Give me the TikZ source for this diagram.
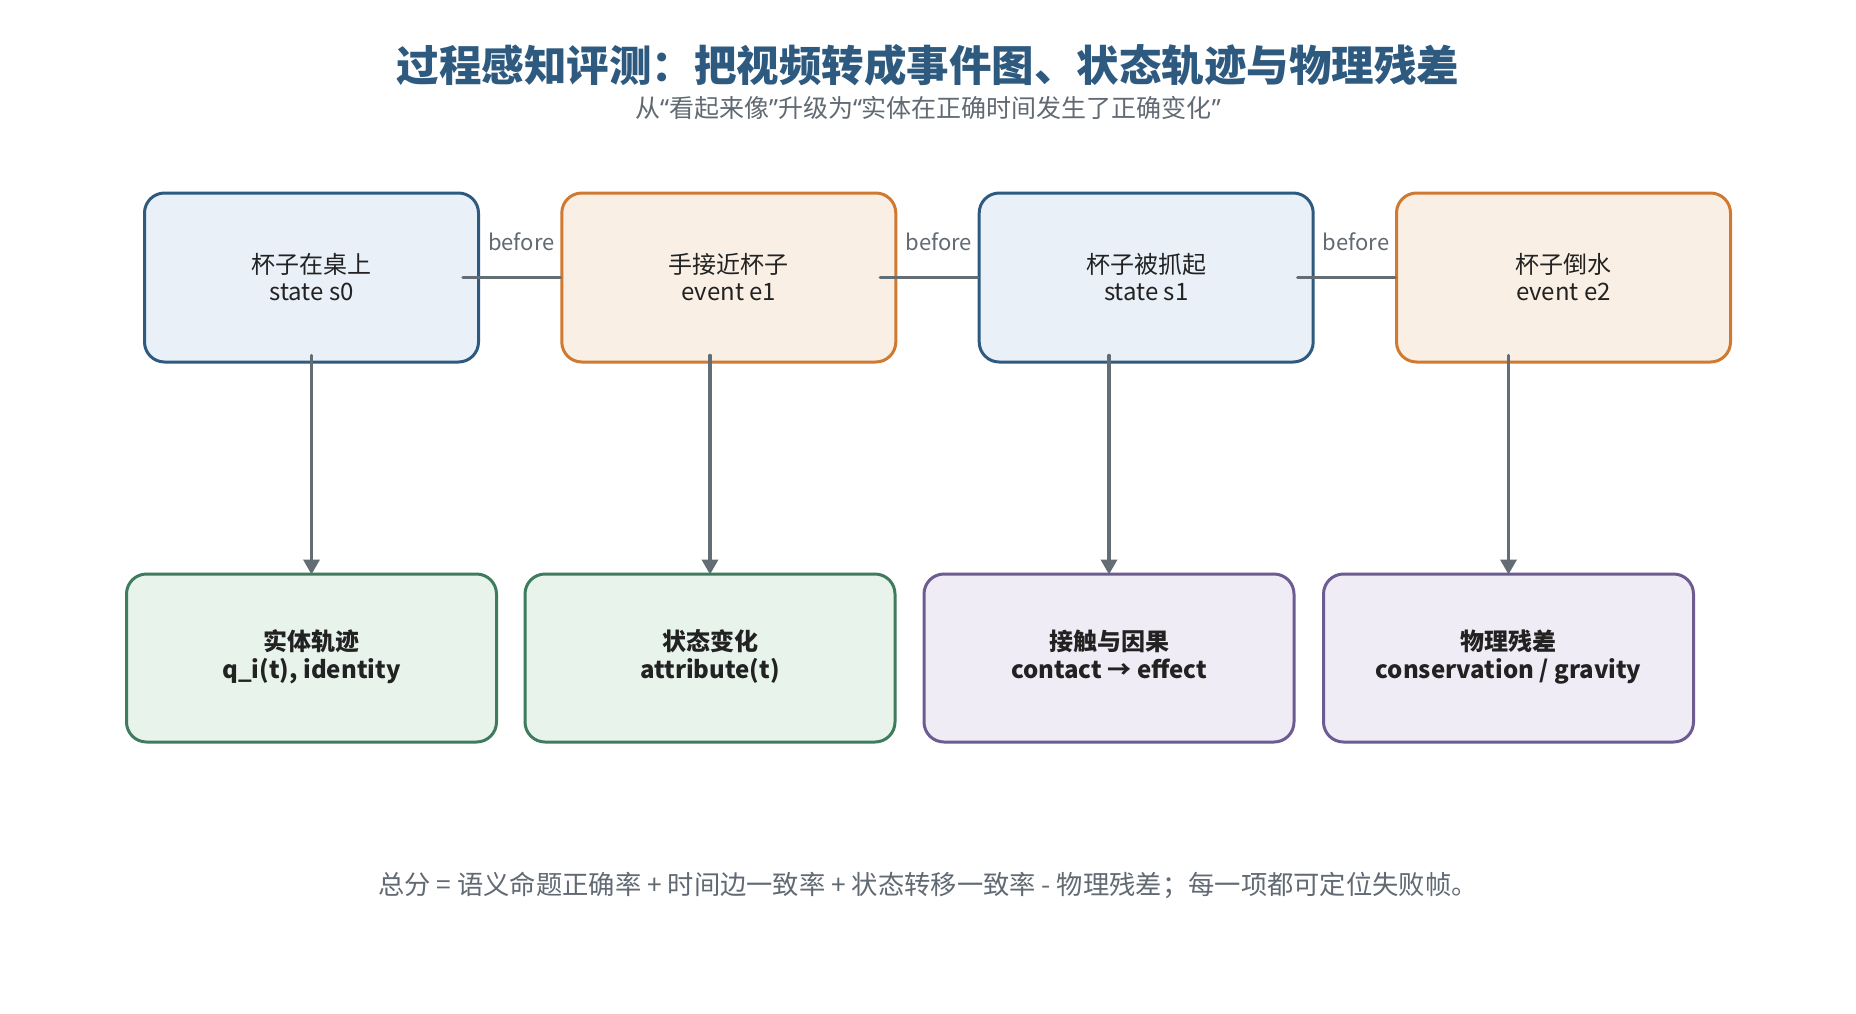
\documentclass[tikz,border=0pt]{standalone}
\usepackage{fontspec}
\setmainfont{Noto Sans CJK SC}
\newfontfamily\quotefont{Noto Sans}
\usetikzlibrary{arrows.meta,calc}
\definecolor{headblue}{HTML}{2E5A80}
\definecolor{ink}{HTML}{222222}
\definecolor{muted}{HTML}{616973}
\definecolor{linkgray}{HTML}{646C74}
\definecolor{stateline}{HTML}{2F5A80}
\definecolor{statefill}{HTML}{E9F0F8}
\definecolor{eventline}{HTML}{CF7A30}
\definecolor{eventfill}{HTML}{FAEFE4}
\definecolor{trackline}{HTML}{3F7B5D}
\definecolor{trackfill}{HTML}{E8F3EC}
\definecolor{physline}{HTML}{6C5C92}
\definecolor{physfill}{HTML}{EFECF6}
\newcommand{\openq}{{\quotefont “}}
\newcommand{\closeq}{{\quotefont ”}}
\begin{document}
\begin{tikzpicture}[x=1pt,y=-1pt,line join=round,line cap=round,>={Triangle[length=15pt,width=16pt]}]
\tikzset{box/.style={draw,rounded corners=20pt,line width=3pt,align=center,text=ink},
  toprow/.style={box,minimum width=334pt,minimum height=169pt,font=\fontsize{24}{27}\selectfont},
  botrow/.style={box,minimum width=370pt,minimum height=168pt,font=\bfseries\fontsize{24}{28}\selectfont,
    execute at end node=\strut},
  stateblk/.style={toprow,draw=stateline,fill=statefill},
  eventblk/.style={toprow,draw=eventline,fill=eventfill},
  trackblk/.style={botrow,draw=trackline,fill=trackfill},
  physblk/.style={botrow,draw=physline,fill=physfill},
  link/.style={draw=linkgray,line width=3.5pt}}
\fill[white] (0,0) rectangle (1856,1013);
\path[use as bounding box] (0,0) rectangle (1856,1013);
% heading
\node[font=\bfseries\fontsize{42.5}{50}\selectfont,text=headblue] (title) at (928,65) {过程感知评测：把视频转成事件图、状态轨迹与物理残差};
\node[font=\fontsize{25}{28}\selectfont,text=muted] (sub) at (928,108) {从\openq 看起来像\closeq 升级为\openq 实体在正确时间发生了正确变化\closeq};
% event chain
\node[stateblk] (s0) at (311.5,277.5) {杯子在桌上\\state s0};
\node[eventblk] (e1) at (728.8,277.5) {手接近杯子\\event e1};
\node[stateblk] (s1) at (1146.2,277.5) {杯子被抓起\\state s1};
\node[eventblk] (e2) at (1563.5,277.5) {杯子倒水\\event e2};
% what each step is checked against
\node[trackblk] (trj) at (311.5,658) {实体轨迹\\q\_i(t), identity};
\node[trackblk] (chg) at (710,658) {状态变化\\attribute(t)};
\node[physblk] (cau) at (1109,658) {接触与因果\\contact → effect};
\node[physblk] (phy) at (1508.5,658) {物理残差\\conservation / gravity};
\foreach \a/\b in {s0/e1,e1/s1,s1/e2}
  \draw[link] ($(\a.east)+(-17,0)$) -- (\b.west)
    node[pos=.6,yshift=36pt,font=\fontsize{22}{26}\selectfont,text=muted] {before};
\foreach \a/\b in {s0/trj,e1/chg,s1/cau,e2/phy}
  \draw[link,->,shorten >=-2pt] ($(\b.north |- \a.south)+(0,-8)$) -- (\b.north);
\node[font=\fontsize{26.3}{30}\selectfont,text=muted] (score) at (928,885) {总分 = 语义命题正确率 + 时间边一致率 + 状态转移一致率 - 物理残差；每一项都可定位失败帧。};
\end{tikzpicture}
\end{document}
